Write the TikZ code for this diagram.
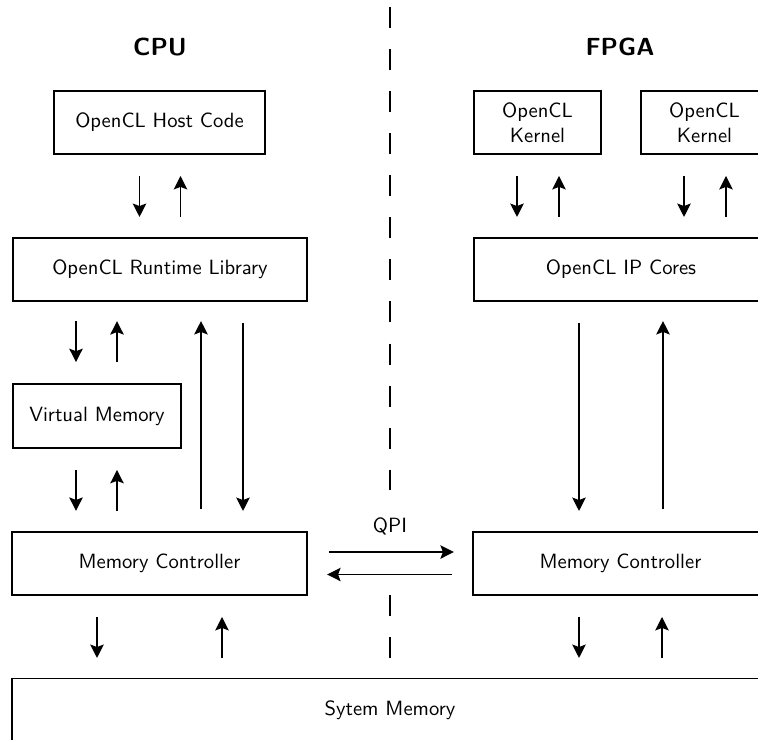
\documentclass[tikz,border=0pt]{standalone}
\usetikzlibrary{arrows.meta}
\tikzset{
  block/.style={draw, line width=0.9pt, minimum height=30.6pt, align=center, inner sep=2pt},
  arr/.style={line width=0.9pt, -{Stealth[length=6.5pt,width=6.5pt,inset=1.2pt]}},
  head/.style={font=\sffamily\bfseries\large},
  sep/.style={line width=0.9pt, dash pattern=on 10.2pt off 10.2pt}
}
\begin{document}
\begin{tikzpicture}[x=0.485pt,y=-0.485pt,font=\sffamily]
  \useasboundingbox (0,0) rectangle (758,739);
  \clip (0,0) rectangle (758,739);
  % headings and separator
  \node[head] (cpu) at (160,47) {CPU};
  \node[head] (fpga) at (620,47) {FPGA};
  \draw[sep] (390,7) -- (390,490);
  \draw[sep] (390,595) -- (390,658);
  % CPU side
  \node[block, minimum width=102.3pt] (host) at (159.5,122.5) {OpenCL Host Code};
  \node[block, minimum width=142.6pt] (runtime) at (160,269.5) {OpenCL Runtime Library};
  \node[block, minimum width=81.5pt, minimum height=31pt] (virtmem) at (97,416) {Virtual Memory};
  \node[block, minimum width=143pt] (memL) at (159.5,563.5) {Memory Controller};
  % FPGA side
  \node[block, minimum width=61.6pt] (kernA) at (537.5,122.5) {OpenCL\\Kernel};
  \node[block, minimum width=61.6pt] (kernB) at (704.5,122.5) {OpenCL\\Kernel};
  \node[block, minimum width=142.6pt] (ipcores) at (621,269.5) {OpenCL IP Cores};
  \node[block, minimum width=143pt] (memR) at (620.5,563.5) {Memory Controller};
  % shared memory
  \node[block, minimum width=366.7pt] (sysmem) at (390,710) {Sytem Memory};
  % host <-> runtime
  \draw[arr] (host.south) ++(-20,21) -- ++(0,41);
  \draw[arr] (host.south) ++(21,62) -- ++(0,-41);
  % kernels <-> ip cores
  \draw[arr] (kernA.south) ++(-20.5,21) -- ++(0,41);
  \draw[arr] (kernA.south) ++(21.5,62) -- ++(0,-41);
  \draw[arr] (kernB.south) ++(-20.5,21) -- ++(0,41);
  \draw[arr] (kernB.south) ++(21.5,62) -- ++(0,-41);
  % runtime <-> virtual memory <-> controller
  \draw[arr] (virtmem.north) ++(-21,-62) -- ++(0,41);
  \draw[arr] (virtmem.north) ++(20,-21) -- ++(0,-41);
  \draw[arr] (virtmem.south) ++(-21,21) -- ++(0,41);
  \draw[arr] (virtmem.south) ++(20,62) -- ++(0,-41);
  \draw[arr] (memL.north) ++(41.5,-22) -- ++(0,-188);
  \draw[arr] (runtime.south) ++(83,21) -- ++(0,188);
  % ip cores <-> controller
  \draw[arr] (ipcores.south) ++(-42,21) -- ++(0,188);
  \draw[arr] (memR.north) ++(42.5,-22) -- ++(0,-188);
  % QPI link
  \node (qpi) at (390,526) {QPI};
  \draw[arr] (memL.east) ++(21,-11.5) -- ++(125,0);
  \draw[arr] (memR.west) ++(-20,11) -- ++(-125,0);
  % controllers <-> system memory
  \draw[arr] (memL.south) ++(-62.5,21) -- ++(0,41);
  \draw[arr] (memL.south) ++(62.5,62) -- ++(0,-41);
  \draw[arr] (memR.south) ++(-41.5,21) -- ++(0,41);
  \draw[arr] (memR.south) ++(41.5,62) -- ++(0,-41);
\end{tikzpicture}
\end{document}
